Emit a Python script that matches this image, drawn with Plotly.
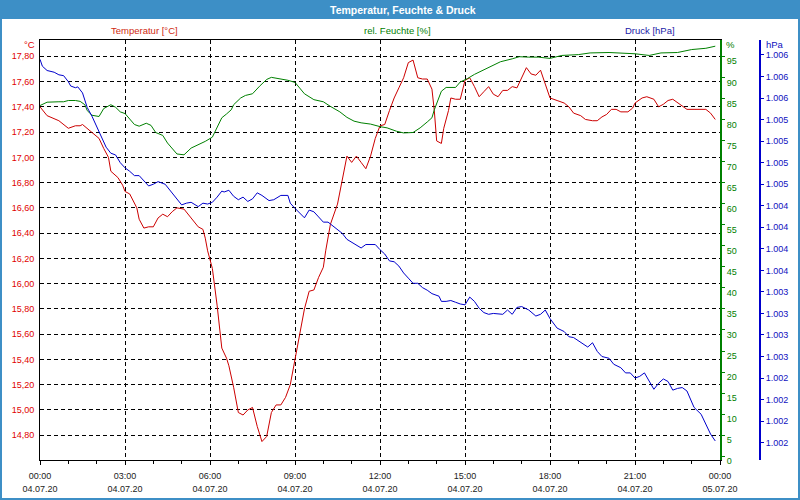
import plotly.graph_objects as go
import pandas as pd

START = pd.Timestamp("2020-07-04 00:00")
END = pd.Timestamp("2020-07-05 00:00")

# Temperature [°C]  (minutes after 04.07.20 00:00, value)
temp_min = [0, 15, 40, 50, 60, 75, 85, 90, 100, 110, 125, 135, 145, 150, 165, 175, 180, 190, 205, 210,
            220, 230, 240, 250, 260, 270, 280, 290, 305, 320, 335, 345, 350, 355, 365, 375, 385, 395, 400, 410,
            420, 430, 440, 450, 460, 470, 480, 490, 500, 510, 520, 530, 540, 550, 560, 570, 580, 590, 600, 605,
            615, 630, 640, 650, 660, 670, 680, 690, 700, 710, 720, 730, 740, 750, 760, 770, 780, 790, 800, 810,
            820, 830, 835, 840, 850, 855, 865, 870, 880, 890, 900, 910, 920, 930, 940, 950, 960, 970, 980, 990,
            1000, 1010, 1030, 1040, 1050, 1060, 1070, 1080, 1095, 1110, 1120, 1130, 1145, 1155, 1170, 1180, 1190, 1200, 1210, 1220,
            1230, 1245, 1255, 1260, 1275, 1285, 1300, 1310, 1320, 1330, 1340, 1355, 1370, 1385, 1400, 1410, 1420, 1430]
temp_val = [17.40, 17.33, 17.29, 17.26, 17.23, 17.25, 17.25, 17.26, 17.23, 17.20, 17.15, 17.07, 17.00, 16.89, 16.84, 16.78, 16.73, 16.71, 16.60, 16.51,
            16.44, 16.45, 16.45, 16.52, 16.55, 16.53, 16.57, 16.60, 16.59, 16.52, 16.45, 16.43, 16.36, 16.26, 16.12, 15.83, 15.49, 15.41, 15.35, 15.18,
            14.98, 14.96, 15.00, 15.02, 14.87, 14.75, 14.79, 14.98, 15.04, 15.04, 15.10, 15.20, 15.41, 15.62, 15.80, 15.94, 15.95, 16.05, 16.13, 16.26,
            16.47, 16.63, 16.81, 17.01, 16.96, 17.01, 16.96, 16.91, 17.01, 17.15, 17.25, 17.26, 17.37, 17.47, 17.55, 17.63, 17.75, 17.77, 17.63, 17.62,
            17.62, 17.54, 17.37, 17.13, 17.11, 17.23, 17.37, 17.47, 17.46, 17.46, 17.61, 17.63, 17.56, 17.48, 17.52, 17.56, 17.50, 17.48, 17.53, 17.53,
            17.56, 17.55, 17.71, 17.66, 17.65, 17.69, 17.58, 17.47, 17.45, 17.43, 17.40, 17.35, 17.33, 17.30, 17.29, 17.29, 17.32, 17.34, 17.38, 17.38,
            17.36, 17.36, 17.39, 17.43, 17.47, 17.48, 17.46, 17.40, 17.42, 17.45, 17.46, 17.42, 17.38, 17.38, 17.38, 17.38, 17.35, 17.30]

# Relative humidity [%]
hum_min = [0, 15, 40, 50, 60, 75, 85, 95, 100, 110, 125, 135, 150, 160, 170, 180, 190, 200, 210, 225,
           235, 245, 260, 270, 290, 305, 320, 335, 350, 365, 375, 385, 395, 405, 410, 425, 435, 450, 465, 480,
           490, 510, 525, 540, 560, 580, 600, 615, 635, 650, 665, 680, 700, 720, 735, 755, 770, 790, 805, 820,
           830, 835, 845, 850, 860, 880, 890, 905, 920, 940, 960, 975, 1000, 1015, 1035, 1055, 1080, 1105, 1140, 1165,
           1205, 1235, 1260, 1290, 1315, 1350, 1380, 1410, 1430]
hum_val = [83.3, 84.1, 84.2, 84.2, 84.5, 84.5, 84.3, 83.5, 82.1, 81.0, 80.7, 82.6, 83.5, 82.9, 81.8, 81.4, 80.1, 78.8, 78.4, 79.1,
           78.6, 76.9, 76.2, 74.4, 71.8, 71.6, 73.2, 74.0, 74.8, 75.8, 78.0, 80.4, 81.3, 82.3, 83.5, 85.1, 85.7, 86.1, 87.9, 89.5,
           90.0, 89.7, 89.3, 88.8, 86.1, 84.7, 84.2, 83.1, 81.8, 80.5, 79.6, 79.2, 78.9, 78.3, 78.0, 77.2, 76.8, 76.9, 78.0, 79.4,
           80.4, 82.3, 85.1, 86.7, 87.6, 87.6, 88.9, 89.7, 90.7, 91.8, 92.8, 93.7, 94.4, 94.9, 94.8, 94.8, 94.5, 95.2, 95.4, 95.8,
           95.9, 95.8, 95.6, 95.2, 95.8, 95.9, 96.6, 96.9, 97.4]

# Pressure [hPa]
pres_min = [0, 5, 15, 30, 40, 50, 60, 65, 75, 80, 90, 100, 110, 125, 135, 140, 150, 160, 170, 180,
            190, 200, 210, 220, 230, 240, 250, 265, 275, 285, 300, 310, 320, 335, 345, 355, 365, 375, 385, 390,
            400, 410, 420, 430, 440, 450, 460, 470, 485, 495, 505, 510, 525, 530, 540, 550, 560, 570, 580, 590,
            600, 610, 620, 630, 640, 650, 665, 680, 690, 710, 720, 730, 740, 750, 760, 770, 780, 790, 800, 810,
            820, 830, 845, 850, 860, 870, 880, 890, 900, 910, 920, 930, 940, 950, 960, 980, 990, 1000, 1010, 1020,
            1035, 1050, 1060, 1070, 1080, 1095, 1110, 1120, 1130, 1145, 1160, 1170, 1180, 1190, 1205, 1215, 1230, 1240, 1250, 1260,
            1270, 1280, 1290, 1300, 1310, 1320, 1330, 1340, 1350, 1360, 1370, 1385, 1400, 1410, 1420, 1430]
pres_val = [1006.00, 1005.92, 1005.87, 1005.85, 1005.82, 1005.81, 1005.74, 1005.69, 1005.67, 1005.68, 1005.61, 1005.44, 1005.34, 1005.16, 1005.02, 1004.98, 1004.91, 1004.89, 1004.80, 1004.74,
            1004.70, 1004.65, 1004.65, 1004.59, 1004.53, 1004.55, 1004.58, 1004.55, 1004.48, 1004.41, 1004.31, 1004.33, 1004.34, 1004.29, 1004.33, 1004.32, 1004.34, 1004.40, 1004.47, 1004.46,
            1004.48, 1004.41, 1004.37, 1004.40, 1004.35, 1004.38, 1004.45, 1004.42, 1004.36, 1004.37, 1004.40, 1004.42, 1004.42, 1004.33, 1004.27, 1004.22, 1004.16, 1004.25, 1004.23, 1004.17,
            1004.11, 1004.11, 1004.07, 1004.02, 1003.98, 1003.91, 1003.86, 1003.81, 1003.85, 1003.85, 1003.79, 1003.74, 1003.66, 1003.65, 1003.60, 1003.52, 1003.46, 1003.40, 1003.40, 1003.35,
            1003.32, 1003.28, 1003.25, 1003.19, 1003.19, 1003.20, 1003.18, 1003.16, 1003.15, 1003.24, 1003.19, 1003.11, 1003.06, 1003.04, 1003.05, 1003.04, 1003.09, 1003.04, 1003.12, 1003.13,
            1003.09, 1003.02, 1003.04, 1003.09, 1002.99, 1002.88, 1002.84, 1002.78, 1002.77, 1002.72, 1002.66, 1002.71, 1002.61, 1002.55, 1002.53, 1002.46, 1002.42, 1002.36, 1002.36, 1002.30,
            1002.32, 1002.36, 1002.26, 1002.17, 1002.24, 1002.29, 1002.26, 1002.16, 1002.18, 1002.19, 1002.15, 1001.96, 1001.88, 1001.77, 1001.65, 1001.57]

title_text = "Temperatur, Feuchte & Druck"
series_names = ["Temperatur [°C]", "rel. Feuchte [%]", "Druck [hPa]"]
unit_labels = ["°C", "%", "hPa"]

RED, GREEN, BLUE = "#cc0000", "#008000", "#0000cc"
BAR = "#3d8fc6"
FONT = "Liberation Sans, Arial, sans-serif"

W, H = 800, 500
ML, MR, MT, MB = 40, 35, 40, 40
PW = W - ML - MR          # paper width in px (725)
PH = H - MT - MB          # paper height in px (420)


def px(x):
    return (x - ML) / PW


def py(y):
    return 1 + (MT - y) / PH


def t(mins):
    return [START + pd.Timedelta(minutes=m) for m in mins]


fig = go.Figure()
fig.add_trace(go.Scatter(x=t(temp_min), y=temp_val, mode="lines", name=series_names[0],
                         line=dict(color=RED, width=1), yaxis="y"))
fig.add_trace(go.Scatter(x=t(hum_min), y=hum_val, mode="lines", name=series_names[1],
                         line=dict(color=GREEN, width=1), yaxis="y2"))
fig.add_trace(go.Scatter(x=t(pres_min), y=pres_val, mode="lines", name=series_names[2],
                         line=dict(color=BLUE, width=1), yaxis="y3"))
# invisible helper on x2 so the date row of the time axis is drawn
fig.add_trace(go.Scatter(x=[START, END], y=[None, None], mode="lines", xaxis="x2", yaxis="y",
                         hoverinfo="skip", showlegend=False))

xdom = [0, 680 / PW]
grid = dict(showgrid=True, gridcolor="black", gridwidth=1, griddash="4px,3px")

fig.update_layout(
    width=W, height=H,
    margin=dict(l=ML, r=MR, t=MT, b=MB, pad=0, autoexpand=False),
    paper_bgcolor="white", plot_bgcolor="white",
    separators=",.",
    showlegend=False,
    font=dict(family=FONT, size=9, color="#222222"),
    xaxis=dict(type="date", domain=xdom, range=[START, END], tick0=START, dtick=3 * 3600000,
               tickformat="%H:%M", ticks="outside", ticklen=4, tickcolor="black",
               showline=True, linecolor="black", linewidth=1, mirror=True, zeroline=False,
               minor=dict(dtick=3600000, ticks="outside", ticklen=3, tickcolor="black", showgrid=False),
               ticklabelstandoff=3, automargin=False,
               tickfont=dict(size=9, color="#222222"), **grid),
    xaxis2=dict(type="date", domain=xdom, range=[START, END], tick0=START, dtick=3 * 3600000,
                tickformat="%d.%m.%y", overlaying="x", anchor="y", side="bottom",
                ticks="", showline=False, showgrid=False, zeroline=False, automargin=False,
                ticklabelstandoff=22, tickfont=dict(size=9, color="#222222")),
    yaxis=dict(range=[14.604, 17.929], tick0=0, dtick=0.2, tickformat=".2f",
               ticks="", showline=True, linecolor="black", linewidth=1, zeroline=False, automargin=False,
               tickfont=dict(size=9, color="#e00000"), ticklabelstandoff=3, **grid),
    yaxis2=dict(range=[-0.88, 98.87], tick0=0, dtick=5, overlaying="y", side="right", anchor="x",
                ticks="outside", ticklen=3, tickcolor=GREEN, showline=True, linecolor=GREEN, linewidth=2,
                showgrid=False, zeroline=False, ticklabelshift=5, automargin=False,
                tickfont=dict(size=9, color=GREEN)),
    yaxis3=dict(range=[1001.349, 1006.224], tick0=1001.55, dtick=0.25, tickformat=",.0f",
                overlaying="y", side="right", anchor="free", position=px(760), automargin=False,
                ticks="outside", ticklen=3, tickcolor=BLUE, showline=True, linecolor=BLUE, linewidth=2,
                showgrid=False, zeroline=False, tickfont=dict(size=9, color="#1010c0")),
    shapes=[
        dict(type="rect", xref="paper", yref="paper", x0=px(0), x1=px(800), y0=py(19), y1=py(0),
             fillcolor=BAR, line=dict(width=0), layer="above"),
        dict(type="rect", xref="paper", yref="paper", x0=px(1), x1=px(799), y0=py(499), y1=py(1),
             fillcolor="rgba(0,0,0,0)", line=dict(color=BAR, width=2), layer="above"),
    ],
    annotations=[
        dict(text="<b>" + title_text + "</b>", x=px(403), y=py(9.5), xref="paper", yref="paper",
             xanchor="center", yanchor="middle", showarrow=False, font=dict(size=10.5, color="white")),
        dict(text=series_names[0], x=px(144), y=py(30.5), xref="paper", yref="paper",
             xanchor="center", yanchor="middle", showarrow=False, font=dict(size=9.5, color="#d02a10")),
        dict(text=series_names[1], x=px(397), y=py(30.5), xref="paper", yref="paper",
             xanchor="center", yanchor="middle", showarrow=False, font=dict(size=9.5, color=GREEN)),
        dict(text=series_names[2], x=px(650), y=py(30.5), xref="paper", yref="paper",
             xanchor="center", yanchor="middle", showarrow=False, font=dict(size=9.5, color="#1a1aa8")),
        dict(text=unit_labels[0], x=px(37), y=py(45), xref="paper", yref="paper",
             xanchor="right", yanchor="middle", showarrow=False, font=dict(size=9.5, color="#e00000")),
        dict(text=unit_labels[1], x=px(724), y=py(45), xref="paper", yref="paper",
             xanchor="left", yanchor="middle", showarrow=False, font=dict(size=9.5, color=GREEN)),
        dict(text=unit_labels[2], x=px(764), y=py(45), xref="paper", yref="paper",
             xanchor="left", yanchor="middle", showarrow=False, font=dict(size=9.5, color="#1010c0")),
    ],
)

fig.write_html("out.html")
